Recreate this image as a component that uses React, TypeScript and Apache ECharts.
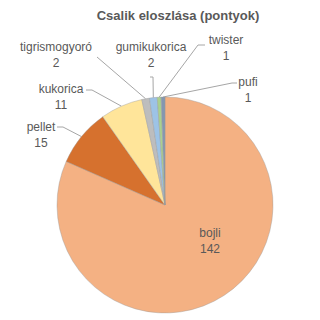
import React, { useEffect, useRef } from "react";
import * as echarts from "echarts";

const titleText = "Csalik eloszlása (pontyok)";
const categories = ["bojli", "pellet", "kukorica", "tigrismogyoró", "gumikukorica", "twister", "pufi"];
const values = [142, 15, 11, 2, 2, 1, 1];
const colors = ["#F4B183", "#D6712E", "#FFE59A", "#BDBDBD", "#9DC3E6", "#A9D18E", "#8497B0"];

// label anchor (centre of the two-line label) and leader line bends
const labelCenters: number[][] = [[210, 241], [41, 135], [61, 97], [56, 55], [151, 55], [226, 48], [248, 90]];
const lineBends: number[][][] = [
  [],
  [[63, 127], [57, 127]],
  [[92, 90], [86, 90]],
  [[97, 57]],
  [[153, 77], [150, 77]],
  [[198, 45], [205, 45]],
  [[232, 83], [237, 83]],
];

export default function App() {
  const ref = useRef<HTMLDivElement>(null);
  useEffect(() => {
    if (!ref.current) return;
    const chart = echarts.init(ref.current, null, { renderer: "svg" });
    const font = '"Liberation Sans", Arial, sans-serif';
    chart.setOption({
      animation: false,
      backgroundColor: "#ffffff",
      title: {
        text: titleText,
        left: 173,
        top: 4,
        textAlign: "center",
        textStyle: { fontFamily: font, fontSize: 13, fontWeight: "bold", color: "#595959" },
      },
      series: [
        {
          type: "pie",
          center: [165, 205],
          radius: 108,
          startAngle: 90,
          clockwise: true,
          avoidLabelOverlap: false,
          itemStyle: { borderColor: "#9a9a9a", borderWidth: 0.4 },
          label: {
            show: true,
            formatter: "{b}\n{c}",
            fontFamily: font,
            fontSize: 12,
            lineHeight: 16,
            color: "#595959",
            align: "center",
          },
          labelLine: { show: true, length: 10, length2: 5, lineStyle: { color: "#a6a6a6", width: 1 } },
          labelLayout: (params: any) => {
            const i = params.dataIndex;
            const c = labelCenters[i];
            const res: any = { x: c[0], y: c[1], align: "center", verticalAlign: "middle" };
            if (i > 0 && params.labelLinePoints) {
              const start = params.labelLinePoints[0];
              res.labelLinePoints = [start, ...lineBends[i]];
            }
            return res;
          },
          data: categories.map((name, i) => ({
            name,
            value: values[i],
            itemStyle: { color: colors[i] },
            ...(i === 0 ? { label: { position: "inside" }, labelLine: { show: false } } : {}),
          })),
        },
      ],
    });
    return () => chart.dispose();
  }, []);
  return <div ref={ref} style={{ position: "fixed", left: 0, top: 0, width: 320, height: 320 }} />;
}
